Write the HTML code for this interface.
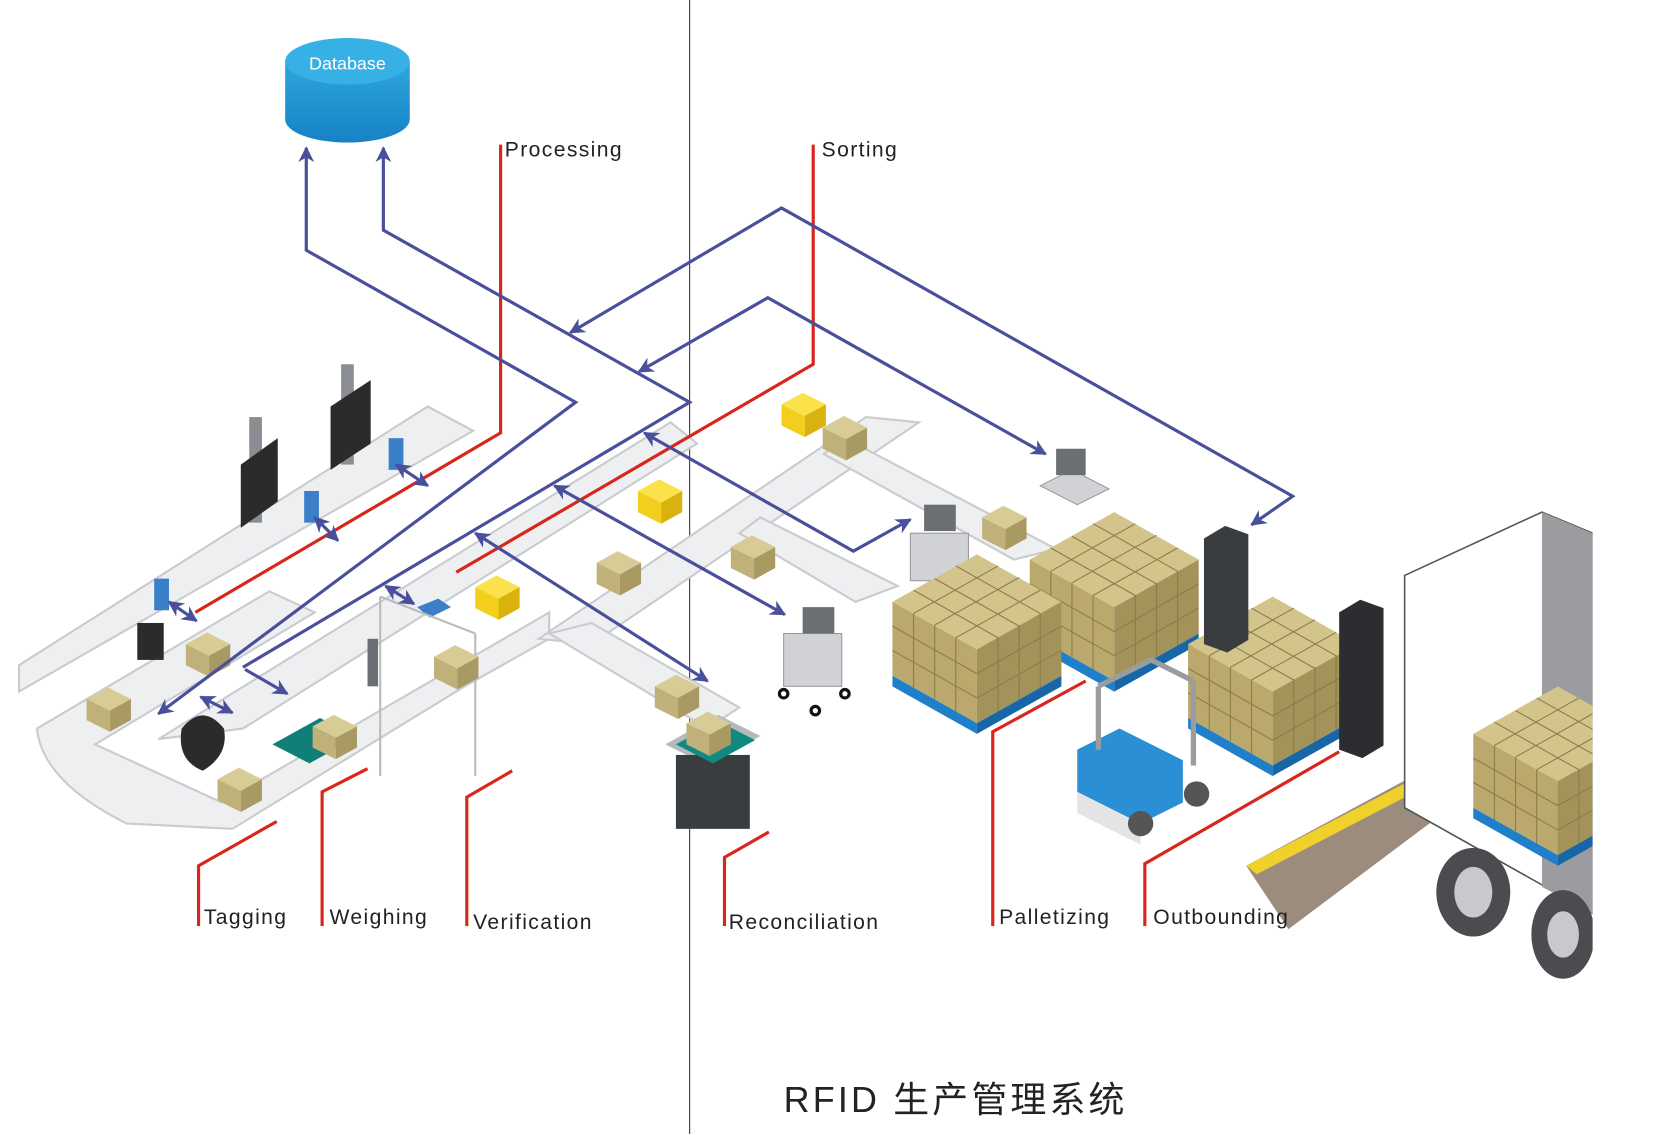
<!DOCTYPE html>
<html><head><meta charset="utf-8"><style>
html,body{margin:0;padding:0;background:#fff;width:1656px;height:1134px;overflow:hidden}
svg{display:block}
text{font-family:"Liberation Sans","Noto Sans CJK SC",sans-serif}
</style></head><body>
<svg width="1656" height="1134" viewBox="0 0 1568 1074" preserveAspectRatio="none" xmlns="http://www.w3.org/2000/svg">
<defs>
<marker id="a" viewBox="0 0 10 10" refX="9" refY="5" markerWidth="5" markerHeight="5" orient="auto-start-reverse"><path d="M0,0 L10,5 L0,10 L3,5z" fill="#4a4f9c"/></marker>
<linearGradient id="db" x1="0" x2="0" y1="0" y2="1"><stop offset="0" stop-color="#2fa6de"/><stop offset="1" stop-color="#1582c4"/></linearGradient>
<clipPath id="tr"><rect x="1330" y="480" width="178" height="400"/></clipPath>
<g id="box"><path d="M0,0 l20,-11 l22,11 l-20,11z" fill="#d8cc96"/><path d="M0,0 l22,11 v20 l-22,-11z" fill="#c0b07a"/><path d="M22,11 l20,-11 v20 l-20,11z" fill="#a89a62"/></g>
<g id="ybox"><path d="M0,0 l20,-11 l22,11 l-20,11z" fill="#fbe24a"/><path d="M0,0 l22,11 v20 l-22,-11z" fill="#f2cf1c"/><path d="M22,11 l20,-11 v20 l-20,11z" fill="#d9b20e"/></g>
<g id="pal"><path d="M0,0 l80,-45 l80,45 l-80,45z" fill="#d2c48a"/><path d="M0,0 l80,45 v70 l-80,-45z" fill="#bba86c"/><path d="M80,45 l80,-45 v70 l-80,45z" fill="#a3925a"/>
<g stroke="#8a7b48" stroke-width="1" fill="none"><path d="M0,23 l80,45 l80,-45 M0,46 l80,45 l80,-45 M20,11 v70 M40,22 v70 M60,34 v70 M100,34 v70 M120,22 v70 M140,11 v70 M20,-11 l80,45 M40,-22 l80,45 M60,-34 l80,45 M20,11 l80,-45 M40,22 l80,-45 M60,34 l80,-45"/></g>
<path d="M0,70 l80,45 v10 l-80,-45z" fill="#1f7fc8"/><path d="M80,115 l80,-45 v10 l-80,45z" fill="#1767a8"/></g>
</defs>
<line x1="653" y1="0" x2="653" y2="1074" stroke="#333" stroke-width="1"/>
<g fill="#eeeff1" stroke="#c9cbcf" stroke-width="2">
<path d="M18,630 L405,385 L448,408 L18,655z"/>
<path d="M35,690 L255,560 L298,580 L90,705 L210,760 L520,580 L520,605 L440,650 L220,785 L120,780 Q40,740 35,690z"/>
<path d="M150,700 L635,400 L660,420 L230,690z"/>
<path d="M510,605 L820,395 L870,400 L560,610z"/>
<path d="M520,600 L670,690 L700,670 L560,590z"/>
<path d="M700,505 L810,570 L850,555 L720,490z"/>
<path d="M800,415 L1000,520 L960,530 L780,430z"/>
</g>
<g fill="#2b2b2b"><rect x="236" y="395" width="12" height="100" fill="#8a8d92"/><path d="M228,440 l35,-25 v60 l-35,25z"/><rect x="323" y="345" width="12" height="95" fill="#8a8d92"/><path d="M313,385 l38,-25 v60 l-38,25z"/>
<path d="M172,690 q20,-25 40,0 q5,25 -20,40 q-25,-10 -20,-40z"/><rect x="130" y="590" width="25" height="35"/></g>
<g fill="#3b7fc9"><rect x="368" y="415" width="14" height="30"/><rect x="288" y="465" width="14" height="30"/><rect x="146" y="548" width="14" height="30"/><path d="M395,575 l20,-8 l12,8 l-20,10z"/></g>
<rect x="348" y="605" width="10" height="45" fill="#6b6e72"/>
<path d="M360,565 v170 M450,600 v135 M360,565 l90,35" stroke="#bbb" fill="none" stroke-width="2"/>
<path d="M258,705 l45,-25 l35,18 l-45,25z" fill="#0f7f78"/>
<path d="M630,705 l50,-28 l40,20 l-50,28z" fill="#b5b8bc"/><rect x="640" y="715" width="70" height="70" fill="#3a3d40"/>
<path d="M640,705 l40,-22 l35,18 l-40,22z" fill="#0f8a80"/>
<g fill="#d0d2d6" stroke="#999"><rect x="742" y="600" width="55" height="50"/><rect x="862" y="505" width="55" height="45"/><path d="M985,460 l30,-15 l35,18 l-30,15z"/></g>
<g fill="#6b6e72"><rect x="760" y="575" width="30" height="25"/><rect x="875" y="478" width="30" height="25"/><rect x="1000" y="425" width="28" height="25"/></g>
<g fill="none" stroke="#111" stroke-width="3"><circle cx="742" cy="657" r="4"/><circle cx="772" cy="673" r="4"/><circle cx="800" cy="657" r="4"/></g>
<use href="#box" x="82" y="662"/><use href="#box" x="176" y="610"/><use href="#box" x="206" y="738"/><use href="#box" x="296" y="688"/><use href="#box" x="411" y="622"/><use href="#box" x="565" y="533"/><use href="#box" x="620" y="650"/><use href="#box" x="650" y="685"/><use href="#box" x="692" y="518"/><use href="#box" x="779" y="405"/><use href="#box" x="930" y="490"/>
<use href="#ybox" x="740" y="383"/><use href="#ybox" x="604" y="465"/><use href="#ybox" x="450" y="556"/>
<use href="#pal" x="975" y="530"/><use href="#pal" x="845" y="570"/><use href="#pal" x="1125" y="610"/>
<path d="M1140,510 l20,-12 l22,8 v100 l-20,12 l-22,-8z" fill="#3a3d40"/><path d="M1268,580 l20,-12 l22,8 v130 l-20,12 l-22,-8z" fill="#2b2d30"/>
<path d="M1020,710 l40,-20 l60,30 v40 l-40,20 l-60,-30z" fill="#2b8fd6"/><path d="M1020,750 l60,30 v20 l-60,-30z" fill="#e3e4e6"/>
<path d="M1040,650 l50,-25 l40,20 M1040,650 v60 M1130,645 v80" stroke="#9a9ca0" stroke-width="5" fill="none"/>
<circle cx="1080" cy="780" r="12" fill="#555"/><circle cx="1133" cy="752" r="12" fill="#555"/>
<path d="M1180,820 l260,-140 l20,20 l-240,180z" fill="#9b8c7e"/><path d="M1180,820 l250,-130 l10,8 l-250,130z" fill="#f0d02a"/>
<path d="M1330,545 l130,-60 l48,20 v360 l-178,-100z" fill="#fff" stroke="#555" stroke-width="1.5"/>
<path d="M1460,485 l48,20 v360 l-48,-25z" fill="#9a9c9f"/>
<g clip-path="url(#tr)"><use href="#pal" x="1395" y="695"/></g>
<ellipse cx="1395" cy="845" rx="35" ry="42" fill="#4a4c50"/><ellipse cx="1395" cy="845" rx="18" ry="24" fill="#c8c9cc"/>
<ellipse cx="1480" cy="885" rx="30" ry="42" fill="#4a4c50"/><ellipse cx="1480" cy="885" rx="15" ry="22" fill="#c8c9cc"/>
<rect x="1508" y="480" width="60" height="460" fill="#fff"/>
<path d="M270,58 v55 a59,22 0 0 0 118,0 v-55z" fill="url(#db)"/><ellipse cx="329" cy="58" rx="59" ry="22" fill="#37b0e6"/>
<text x="329" y="66" text-anchor="middle" font-size="17" fill="#fff">Database</text>
<g stroke="#d9261c" stroke-width="3" fill="none">
<path d="M474,137 V410 L185,580"/><path d="M770,137 V345 L432,542"/>
<path d="M188,877 V820 L262,778"/><path d="M305,877 V750 L348,728"/><path d="M442,877 V755 L485,730"/><path d="M686,877 V812 L728,788"/><path d="M940,877 V693 L1028,645"/><path d="M1084,877 V818 L1268,712"/>
</g>
<g stroke="#4a4f9c" stroke-width="3" fill="none">
<path d="M150,676 L545,381 L290,237 V140" marker-start="url(#a)" marker-end="url(#a)"/>
<path d="M230,632 L653,381 L363,218 V140" marker-end="url(#a)"/>
<path d="M540,315 L740,197 L1224,470 L1185,497" marker-start="url(#a)" marker-end="url(#a)"/>
<path d="M605,352 L727,282 L990,430" marker-start="url(#a)" marker-end="url(#a)"/>
<path d="M610,410 L808,522 L862,492" marker-start="url(#a)" marker-end="url(#a)"/>
<path d="M525,460 L743,582" marker-start="url(#a)" marker-end="url(#a)"/>
<path d="M450,505 L670,645" marker-start="url(#a)" marker-end="url(#a)"/>
<path d="M375,440 L405,460" marker-start="url(#a)" marker-end="url(#a)"/>
<path d="M298,490 L320,512" marker-start="url(#a)" marker-end="url(#a)"/>
<path d="M160,570 L186,588" marker-start="url(#a)" marker-end="url(#a)"/>
<path d="M190,660 L220,675" marker-start="url(#a)" marker-end="url(#a)"/>
<path d="M232,634 L272,657" marker-end="url(#a)"/>
<path d="M365,555 L392,572" marker-start="url(#a)" marker-end="url(#a)"/>
</g>
<g font-size="20" fill="#222" letter-spacing="1.3">
<text x="478" y="148">Processing</text><text x="778" y="148">Sorting</text>
<text x="193" y="875">Tagging</text><text x="312" y="875">Weighing</text><text x="448" y="880">Verification</text><text x="690" y="880">Reconciliation</text><text x="946" y="875">Palletizing</text><text x="1092" y="875">Outbounding</text>
</g>
<text x="742" y="1053" font-size="34" fill="#222" letter-spacing="3">RFID  生产管理系统</text>
</svg>
</body></html>
